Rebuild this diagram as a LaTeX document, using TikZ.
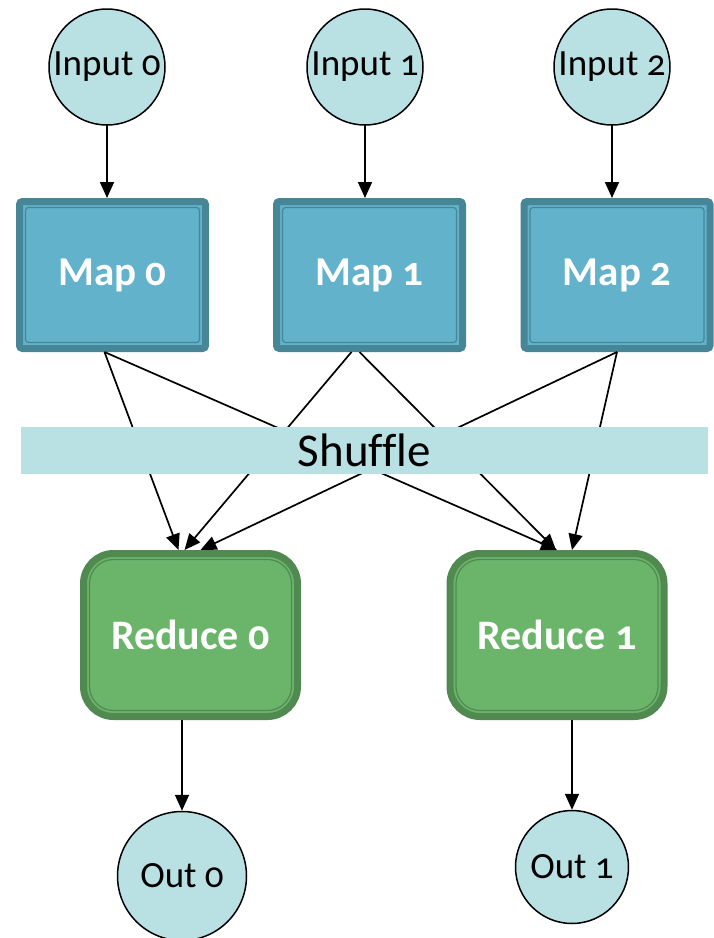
\documentclass[tikz,border=0pt]{standalone}
\usepackage{fontspec}
\setmainfont{Carlito}[Numbers=OldStyle]
\usetikzlibrary{arrows.meta}
\definecolor{lightbox}{HTML}{B9E0E3}
\definecolor{mapfill}{HTML}{62B2CB}
\definecolor{mapedge}{HTML}{468696}
\definecolor{redfill}{HTML}{6BB56B}
\definecolor{rededge}{HTML}{508A51}
\begin{document}
\begin{tikzpicture}[x=1pt, y=-1pt, thick,
	io/.style = {draw, circle, fill=lightbox, line width=1.5pt, inner sep=0pt, font=\fontsize{37}{40}\selectfont},
	mapbox/.style = {draw=mapedge, fill=mapfill, line width=7pt, rounded corners=3pt, minimum width=186pt, minimum height=147pt, text=white, font=\bfseries\fontsize{41}{44}\selectfont,
		path picture={\draw[mapedge, line width=1.2pt] ([shift={(6,6)}]path picture bounding box.north west) rectangle ([shift={(-6,-6)}]path picture bounding box.south east);}},
	redbox/.style = {draw=rededge, fill=redfill, line width=7pt, rounded corners=30pt, minimum width=214pt, minimum height=163pt, text=white, font=\bfseries\fontsize{42}{45}\selectfont,
		path picture={\draw[rededge, line width=1.2pt, rounded corners=24pt] ([shift={(6,6)}]path picture bounding box.north west) rectangle ([shift={(-6,-6)}]path picture bounding box.south east);}},
	arr/.style = {-{Triangle[length=16pt, width=14pt]}, line width=1.7pt}]

	\useasboundingbox (0,0) rectangle (713,938);

	\node[io, minimum size=116pt] (in0) at (107,67) {Input 0};
	\node[io, minimum size=116pt] (in1) at (365,67) {Input 1};
	\node[io, minimum size=116pt] (in2) at (612,67) {Input 2};

	\node[mapbox] (m0) at (112.5,275) {Map 0};
	\node[mapbox] (m1) at (369.5,275) {Map 1};
	\node[mapbox] (m2) at (617,275) {Map 2};

	\node[redbox] (r0) at (190.5,635) {Reduce 0};
	\node[redbox] (r1) at (557,635) {Reduce 1};

	\node[io, minimum size=129pt] (o0) at (182,876) {Out 0};
	\node[io, minimum size=113pt] (o1) at (572,867) {Out 1};

	\draw[arr] (in0 |- 0,124) -- (in0 |- m0.north);
	\draw[arr] (in1 |- 0,124) -- (in1 |- m1.north);
	\draw[arr] (in2 |- 0,124) -- (in2 |- m2.north);

	% map to reduce, under the shuffle band
	\draw[arr] ([xshift=-8]m0.south) -- ([xshift=-12]r0.north);
	\draw[arr] ([xshift=-8]m0.south) -- (r1.north);
	\draw[arr] ([xshift=-18]m1.south) -- ([xshift=-6]r0.north);
	\draw[arr] ([xshift=-10]m1.south) -- ([xshift=-1]r1.north);
	\draw[arr] (m2.south) -- ([xshift=10]r0.north);
	\draw[arr] (m2.south) -- ([xshift=15]r1.north);

	\node[fill=lightbox, minimum width=687pt, minimum height=47pt, inner sep=0pt, font=\addfontfeatures{Ligatures=NoCommon}\fontsize{47}{50}\selectfont] (shuffle) at (364.5,450.5) {Shuffle};

	\draw[arr] (r0.south -| o0) -- (o0);
	\draw[arr] (r1.south -| o1) -- (o1);
\end{tikzpicture}
\end{document}
